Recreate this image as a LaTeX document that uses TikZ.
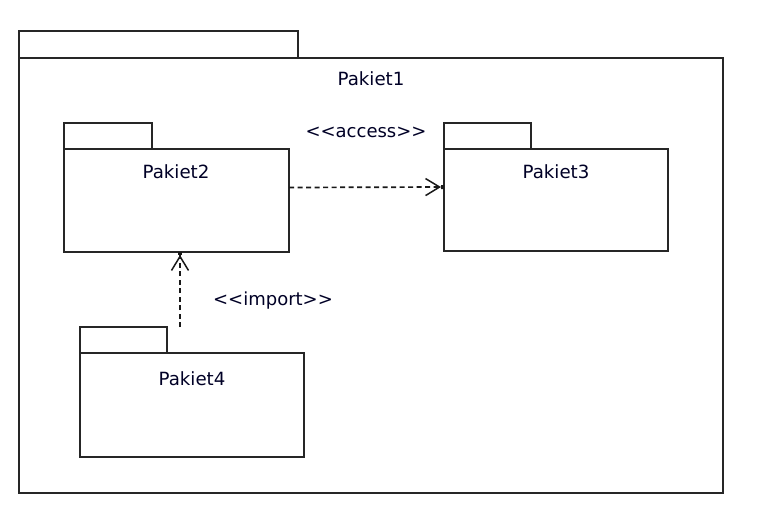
\documentclass[tikz,border=0pt]{standalone}
\usepackage{fontspec}
\setmainfont{DejaVu Sans}
\usetikzlibrary{arrows.meta}
\tikzset{
  pkgbody/.style={draw=black!85, line width=1.6pt, fill=white, inner sep=0pt, outer sep=0pt, anchor=north west},
  pkgtab/.style={draw=black!85, line width=1.6pt, fill=white, inner sep=0pt, outer sep=0pt, anchor=south west},
  pkgname/.style={font=\fontsize{18.2}{21}\selectfont, text=black!85!blue, inner sep=0pt},
  stereo/.style={font=\fontsize{18}{21}\selectfont, text=black!85!blue, inner sep=0pt},
  dep/.style={black!90, line width=1.7pt, dash pattern=on 5pt off 3.5pt,
    -{Straight Barb[length=14pt,width=17pt,line width=1.5pt,sharp] Square[length=3pt,width=4pt]}}
}
\begin{document}
\begin{tikzpicture}[x=1pt,y=-1pt]
\useasboundingbox[fill=white] (0,0) rectangle (784,515);
% outer package
\node[pkgbody, minimum width=704pt, minimum height=435pt] (p1) at (19,58) {};
\node[pkgtab, minimum width=279pt, minimum height=27pt] (p1tab) at (p1.north west) {};
\node[pkgname] (p1t) at (371,79) {Pakiet1};
% Pakiet2
\node[pkgbody, minimum width=225pt, minimum height=103pt] (p2) at (64,149) {};
\node[pkgtab, minimum width=88pt, minimum height=26pt] (p2tab) at (p2.north west) {};
\node[pkgname] (p2t) at (176,172) {Pakiet2};
% Pakiet3
\node[pkgbody, minimum width=224pt, minimum height=102pt] (p3) at (444,149) {};
\node[pkgtab, minimum width=87pt, minimum height=26pt] (p3tab) at (p3.north west) {};
\node[pkgname] (p3t) at (556,172) {Pakiet3};
% Pakiet4
\node[pkgbody, minimum width=224pt, minimum height=104pt] (p4) at (80,353) {};
\node[pkgtab, minimum width=87pt, minimum height=26pt] (p4tab) at (p4.north west) {};
\node[pkgname] (p4t) at (192,379) {Pakiet4};
% stereotypes
\node[stereo] (acc) at (366,132) {<{}<access>{}>};
\node[stereo] (imp) at (273,301) {<{}<import>{}>};
% dependencies
\draw[dep] ([yshift=13pt]p2.east) -- ([yshift=13pt]p3.west);
\coordinate (impstart) at (180,327);
\draw[dep] (impstart) -- (impstart |- p2.south);
\end{tikzpicture}
\end{document}
